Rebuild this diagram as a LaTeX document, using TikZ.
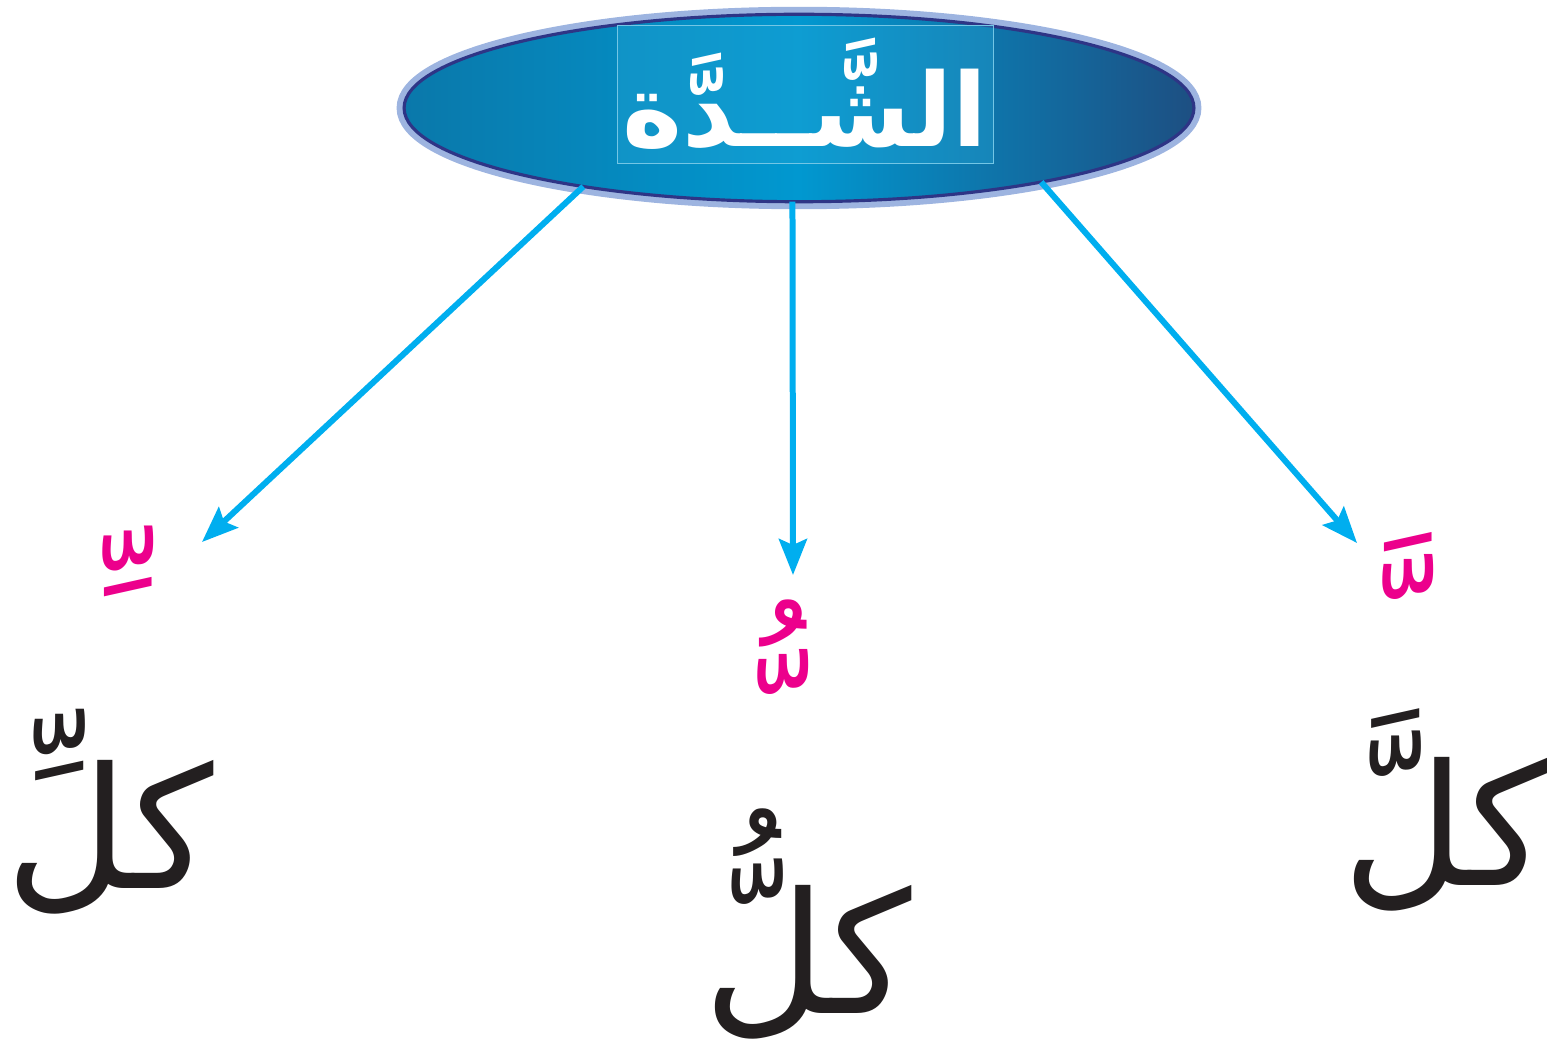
\documentclass[tikz,border=0pt]{standalone}
\usepackage{fontspec}
\usetikzlibrary{arrows.meta, positioning, shapes.geometric}
\TeXXeTstate=1
\newfontfamily\arabicfont[Script=Arabic]{DejaVu Sans}
\definecolor{arrowcyan}{HTML}{00AEEF}
\definecolor{markpink}{HTML}{EC008C}
\definecolor{inkblack}{HTML}{231F20}
\definecolor{ringblue}{HTML}{9DB4E0}
\definecolor{ovalnavy}{HTML}{2E3586}
\definecolor{ovalleft}{HTML}{0A78AA}
\definecolor{ovalmid}{HTML}{0198D0}
\definecolor{ovalright}{HTML}{1D4F82}
\tikzset{
	oval/.style={ellipse, minimum width=15.8cm, minimum height=3.75cm, inner sep=0pt, outer sep=0pt, shading=axis, left color=ovalleft, right color=ovalright, middle color=ovalmid, draw=ovalnavy, line width=1.8pt, preaction={draw=ringblue, line width=0.3cm}},
	titlebox/.style={rectangle, minimum width=7.52cm, minimum height=2.76cm, inner sep=0pt, fill=ovalmid!85!white, fill opacity=0.35, text opacity=1, draw=ovalmid!55!white, line width=0.4pt, text=white, font=\arabicfont\bfseries\fontsize{58}{62}\selectfont},
	harakah/.style={inner sep=0pt, text=markpink, font=\arabicfont\fontsize{95}{100}\selectfont},
	word/.style={inner sep=0pt, text=inkblack, font=\arabicfont\fontsize{96}{100}\selectfont},
	link/.style={draw=arrowcyan, line width=0.12cm, -{Stealth[length=0.72cm, width=0.56cm, inset=0.12cm]}}
}
\begin{document}
\begin{tikzpicture}[x=0.02cm, y=-0.02cm]
	\useasboundingbox (0,0) rectangle (1547,1057);
	\node (oval) [oval] at (799,108) {};
	\node (title) [titlebox] at (805,94) {\beginR الشَّــدَّة\endR};

	% free ends of the three arrows
	\coordinate (tipL) at (202,542);
	\coordinate (tipM) at (793,575);
	\coordinate (tipR) at (1357,543);

	\draw [link] (oval.200) -- (tipL);
	\draw [link] (oval.266) -- (tipM);
	\draw [link] (oval.343) -- (tipR);

	% shadda with its vowel
	\node (markL) [harakah] at (113,611) {\beginR ^^^^00a0ِّ\endR};
	\node (markM) [harakah] at (768,697) {\beginR ^^^^00a0ُّ\endR};
	\node (markR) [harakah] at (1393,616) {\beginR ^^^^00a0َّ\endR};

	% the words
	\node (wordL) [word] at (110,812) {\beginR كلِّ\endR};
	\node (wordM) [word] at (808,924) {\beginR كلُّ\endR};
	\node (wordR) [word] at (1446,810) {\beginR كلَّ\endR};
\end{tikzpicture}
\end{document}
